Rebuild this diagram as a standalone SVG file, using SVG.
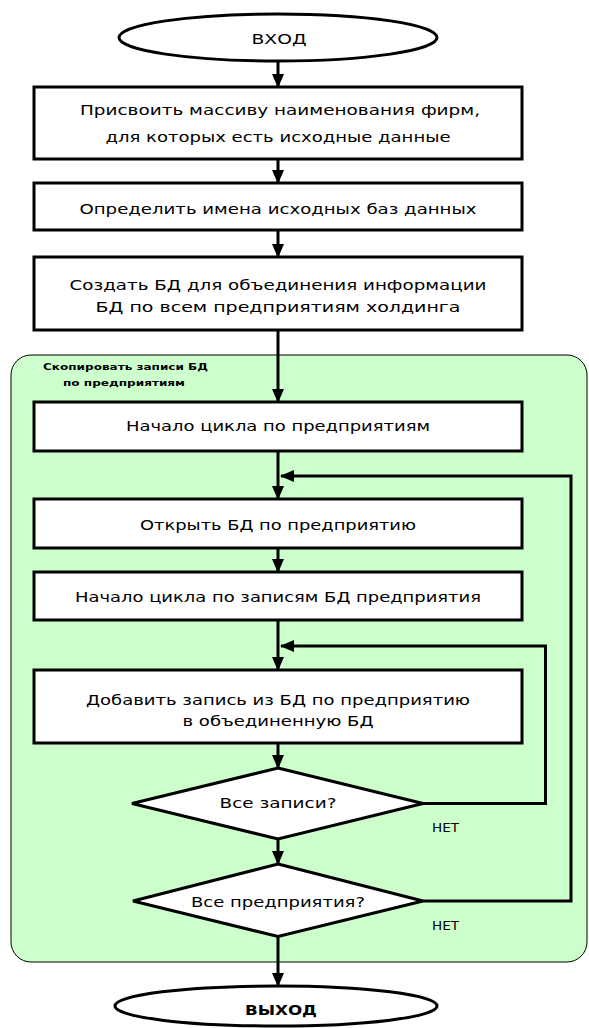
<svg xmlns="http://www.w3.org/2000/svg" width="589" height="1028" viewBox="0 0 589 1028">
<style>
.box{fill:#fff;stroke:#000;stroke-width:3}
.t{font-family:"DejaVu Sans","Liberation Sans",sans-serif;font-size:14px;fill:#000;text-anchor:middle}
.lbl{font-family:"DejaVu Sans","Liberation Sans",sans-serif;font-size:12px;fill:#000}
.grp{font-family:"DejaVu Sans","Liberation Sans",sans-serif;font-size:9px;font-weight:bold;fill:#000}
.c{fill:none;stroke:#000;stroke-width:3}
</style>
<defs>
<marker id="ah" viewBox="0 0 14 12" refX="13" refY="6" markerWidth="14" markerHeight="12" markerUnits="userSpaceOnUse" orient="auto">
<path d="M0,0 L14,6 L0,12 z" fill="#000"/>
</marker>
</defs>
<g id="group-copy">
<rect x="11" y="355" width="576" height="607" rx="20" ry="20" fill="#ccffcc" stroke="#000" stroke-width="1"/>
<text class="grp" x="43" y="370" textLength="165" lengthAdjust="spacingAndGlyphs">Скопировать записи БД</text>
<text class="grp" x="63" y="386" textLength="122" lengthAdjust="spacingAndGlyphs">по предприятиям</text>
</g>
<g id="connectors">
<line class="c" x1="278" y1="61" x2="278" y2="87" marker-end="url(#ah)"/>
<line class="c" x1="278" y1="159" x2="278" y2="183" marker-end="url(#ah)"/>
<line class="c" x1="278" y1="230" x2="278" y2="257" marker-end="url(#ah)"/>
<line class="c" x1="278" y1="330" x2="278" y2="402" marker-end="url(#ah)"/>
<line class="c" x1="278" y1="451" x2="278" y2="499" marker-end="url(#ah)"/>
<line class="c" x1="278" y1="548" x2="278" y2="572" marker-end="url(#ah)"/>
<line class="c" x1="278" y1="620" x2="278" y2="670" marker-end="url(#ah)"/>
<line class="c" x1="278" y1="743" x2="278" y2="768" marker-end="url(#ah)"/>
<line class="c" x1="278" y1="839" x2="278" y2="864" marker-end="url(#ah)"/>
<line class="c" x1="278" y1="936" x2="278" y2="986" marker-end="url(#ah)"/>
<polyline class="c" points="423,803.5 545.5,803.5 545.5,646 281,646" marker-end="url(#ah)"/>
<polyline class="c" points="423,901 571,901 571,476 281,476" marker-end="url(#ah)"/>
<text class="lbl" x="432" y="832" textLength="27" lengthAdjust="spacingAndGlyphs">НЕТ</text>
<text class="lbl" x="432" y="930" textLength="27" lengthAdjust="spacingAndGlyphs">НЕТ</text>
</g>
<g id="start">
<ellipse cx="278" cy="37.5" rx="159" ry="23.5" fill="#fff" stroke="#000" stroke-width="3"/>
<text class="t" x="279" y="44" font-size="16" textLength="55" lengthAdjust="spacingAndGlyphs">ВХОД</text>
</g>
<g id="n1">
<rect class="box" x="34" y="87" width="488" height="72"/>
<text class="t" x="280" y="115" textLength="400" lengthAdjust="spacingAndGlyphs">Присвоить массиву наименования фирм,</text>
<text class="t" x="278" y="142" textLength="345" lengthAdjust="spacingAndGlyphs">для которых есть исходные данные</text>
</g>
<g id="n2">
<rect class="box" x="34" y="183" width="488" height="47"/>
<text class="t" x="278" y="214" textLength="397" lengthAdjust="spacingAndGlyphs">Определить имена исходных баз данных</text>
</g>
<g id="n3">
<rect class="box" x="34" y="257" width="488" height="73"/>
<text class="t" x="278" y="290" textLength="417" lengthAdjust="spacingAndGlyphs">Создать БД для объединения информации</text>
<text class="t" x="278" y="311.5" textLength="365" lengthAdjust="spacingAndGlyphs">БД по всем предприятиям холдинга</text>
</g>
<g id="n4">
<rect class="box" x="34" y="402" width="488" height="49"/>
<text class="t" x="278" y="431" textLength="304" lengthAdjust="spacingAndGlyphs">Начало цикла по предприятиям</text>
</g>
<g id="n5">
<rect class="box" x="34" y="499" width="488" height="49"/>
<text class="t" x="278" y="530" textLength="276" lengthAdjust="spacingAndGlyphs">Открыть БД по предприятию</text>
</g>
<g id="n6">
<rect class="box" x="34" y="572" width="488" height="48"/>
<text class="t" x="278" y="601.5" textLength="406" lengthAdjust="spacingAndGlyphs">Начало цикла по записям БД предприятия</text>
</g>
<g id="n7">
<rect class="box" x="34" y="670" width="488" height="73"/>
<text class="t" x="278" y="705" textLength="384" lengthAdjust="spacingAndGlyphs">Добавить запись из БД по предприятию</text>
<text class="t" x="278" y="726" textLength="191" lengthAdjust="spacingAndGlyphs">в объединенную БД</text>
</g>
<g id="d1">
<polygon points="278,768 423,803.5 278,839 132,803.5" fill="#fff" stroke="#000" stroke-width="3"/>
<text class="t" x="278" y="808" textLength="117" lengthAdjust="spacingAndGlyphs">Все записи?</text>
</g>
<g id="d2">
<polygon points="278,864 423,901 278,936.5 133,901" fill="#fff" stroke="#000" stroke-width="3"/>
<text class="t" x="278" y="906.5" textLength="174" lengthAdjust="spacingAndGlyphs">Все предприятия?</text>
</g>
<g id="end">
<ellipse cx="276" cy="1006" rx="161" ry="20" fill="#fff" stroke="#000" stroke-width="3"/>
<text class="t" x="281" y="1015" font-size="16" font-weight="bold" textLength="72" lengthAdjust="spacingAndGlyphs">ВЫХОД</text>
</g>
</svg>
